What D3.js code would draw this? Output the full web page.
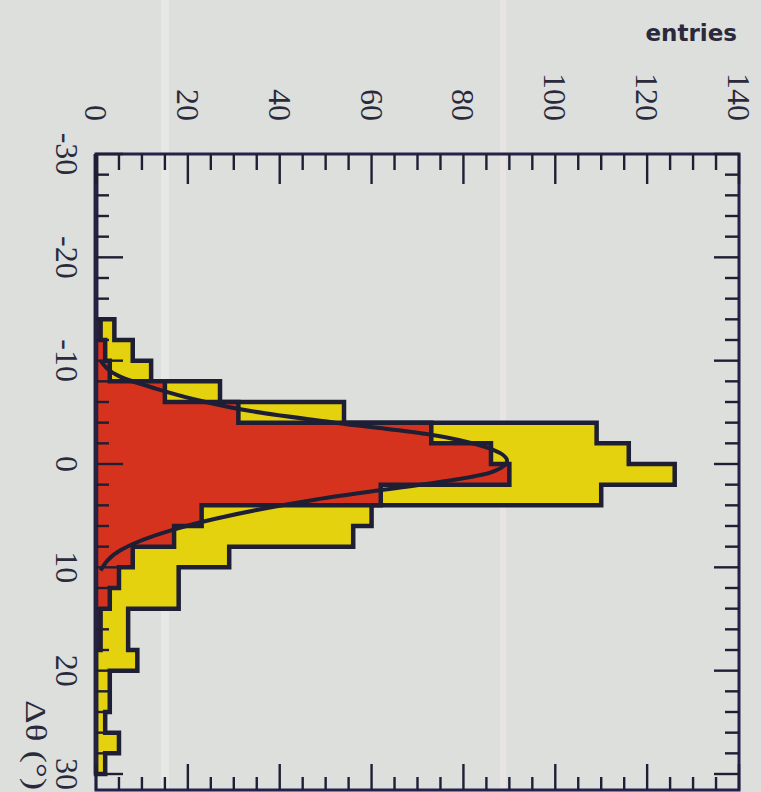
<!DOCTYPE html>
<html>
<head>
<meta charset="utf-8">
<script src="https://cdn.jsdelivr.net/npm/d3@7"></script>
<style>
  html, body { margin: 0; padding: 0; background: #dcdfdc; }
  svg { display: block; }
</style>
</head>
<body>
<svg id="chart" width="761" height="792"></svg>
<script>
// Histogram bins: lower edge of each 2-degree bin in Δθ
const binLow = [-30,-28,-26,-24,-22,-20,-18,-16,-14,-12,-10,-8,-6,-4,-2,0,2,4,6,8,10,12,14,16,18,20,22,24,26,28];
const binWidth = 2;

// Entries per bin: full sample (yellow) and selected sample (red)
const allEntries      = [0,0,0,0,0,0,0,0,4,8,12,27,54,109,116,126,110,60,56,29,18,18,7,7,9,3,3,2,5,2];
const selectedEntries = [0,0,0,0,0,0,0,0,1,2,3,15,31,73,86,90,62,23,17,8,5,3,1,1,0,0,0,0,0,0];

// Fitted curve through the selected sample
const fitDeltaTheta = [-10,-8.5,-7.3,-6.2,-5.1,-4.0,-2.9,-1.6,-0.3,0.8,1.6,2.5,3.5,4.45,5.3,6.4,8.3,10.3];
const fitEntries    = [1,5,13,22,34,52,72,85,89.5,86,77,62.5,47,35,26,16.5,5.5,1];

// Axis ticks
const entryLabels = [0,20,40,60,80,100,120,140];
const entryMinor  = d3.range(0, 141, 5);
const angleLabels = [-30,-20,-10,0,10,20,30];
const angleMinor  = d3.range(-30, 31, 2);

const svg = d3.select("#chart");
const frame = { left: 96, right: 739, top: 154, bottom: 790 };

// Entries run left to right, Δθ runs top to bottom
const x = d3.scaleLinear().domain([0, 140]).range([frame.left, frame.right]);
const y = d3.scaleLinear().domain([-30, 30]).range([154, 774]);

const ink = "#1e1e34";

// background
svg.append("rect").attr("width", 761).attr("height", 792).attr("fill", "#dcdfdc");
// faint light streaks across the sheet
svg.append("rect").attr("x", 161).attr("y", 0).attr("width", 8).attr("height", 792)
  .attr("fill", "#e9ebe9").attr("opacity", 0.7);
svg.append("rect").attr("x", 500).attr("y", 0).attr("width", 6).attr("height", 792)
  .attr("fill", "#ece3e6").attr("opacity", 0.8);

// step outline of a histogram, laid on its side
function stepPoints(values) {
  const pts = [[0, binLow[0]]];
  values.forEach((v, i) => {
    pts.push([v, binLow[i]]);
    pts.push([v, binLow[i] + binWidth]);
  });
  pts.push([0, binLow[binLow.length - 1] + binWidth]);
  return pts;
}
const stepLine = d3.line().x(d => x(d[0])).y(d => y(d[1]));

const hist = svg.append("g");
hist.append("path")
  .attr("d", stepLine(stepPoints(allEntries)) + "Z")
  .attr("fill", "#e5d20f")
  .attr("stroke", ink).attr("stroke-width", 4.5).attr("stroke-linejoin", "miter");
hist.append("path")
  .attr("d", stepLine(stepPoints(selectedEntries)) + "Z")
  .attr("fill", "#d6331f")
  .attr("stroke", ink).attr("stroke-width", 4.5).attr("stroke-linejoin", "miter");

// fitted curve
const fitPts = fitDeltaTheta.map((v, i) => [fitEntries[i], v]);
svg.append("path")
  .attr("d", d3.line().x(d => x(d[0])).y(d => y(d[1])).curve(d3.curveMonotoneY)(fitPts))
  .attr("fill", "none").attr("stroke", ink).attr("stroke-width", 4);

// frame
svg.append("rect")
  .attr("x", frame.left).attr("y", frame.top)
  .attr("width", frame.right - frame.left).attr("height", frame.bottom - frame.top)
  .attr("fill", "none").attr("stroke", "#22224a").attr("stroke-width", 3);

// inward ticks on all four sides
const ticks = svg.append("g").attr("stroke", ink).attr("stroke-width", 2.4);
entryMinor.forEach(t => {
  const major = entryLabels.includes(t);
  ticks.append("line").attr("x1", x(t)).attr("x2", x(t))
    .attr("y1", frame.top).attr("y2", frame.top + (major ? 30 : 16));
  ticks.append("line").attr("x1", x(t)).attr("x2", x(t))
    .attr("y1", frame.bottom).attr("y2", frame.bottom - (major ? 26 : 13));
});
angleMinor.forEach(t => {
  const major = angleLabels.includes(t);
  ticks.append("line").attr("y1", y(t)).attr("y2", y(t))
    .attr("x1", frame.left).attr("x2", frame.left + (major ? 27 : 13));
  ticks.append("line").attr("y1", y(t)).attr("y2", y(t))
    .attr("x1", frame.right).attr("x2", frame.right - (major ? 25 : 14));
});

// tick labels, written along the page's long direction
const labelFont = "'Liberation Serif', 'DejaVu Serif', serif";
svg.append("g").selectAll("text").data(entryLabels).join("text")
  .attr("transform", d => `translate(${x(d)},121) rotate(90)`)
  .attr("text-anchor", "end")
  .attr("dominant-baseline", "central")
  .attr("font-family", labelFont).attr("font-size", 32)
  .attr("fill", "#2a2a3c")
  .text(d => d);

svg.append("g").selectAll("text").data(angleLabels).join("text")
  .attr("transform", d => `translate(67,${y(d)}) rotate(90)`)
  .attr("text-anchor", "middle")
  .attr("dominant-baseline", "central")
  .attr("font-family", labelFont).attr("font-size", 32)
  .attr("fill", "#2a2a3c")
  .text(d => d);

// axis titles
svg.append("text")
  .attr("x", 737).attr("y", 41)
  .attr("text-anchor", "end")
  .attr("font-family", "'DejaVu Sans', sans-serif").attr("font-weight", "bold")
  .attr("font-size", 23).attr("fill", "#2a2a3c")
  .text("entries");

svg.append("text")
  .attr("transform", "translate(36,700) rotate(90)")
  .attr("text-anchor", "start")
  .attr("dominant-baseline", "central")
  .attr("font-family", labelFont).attr("font-size", 30)
  .attr("textLength", 90).attr("lengthAdjust", "spacingAndGlyphs")
  .attr("fill", "#2a2a3c")
  .text("Δθ (°)");
</script>
</body>
</html>
